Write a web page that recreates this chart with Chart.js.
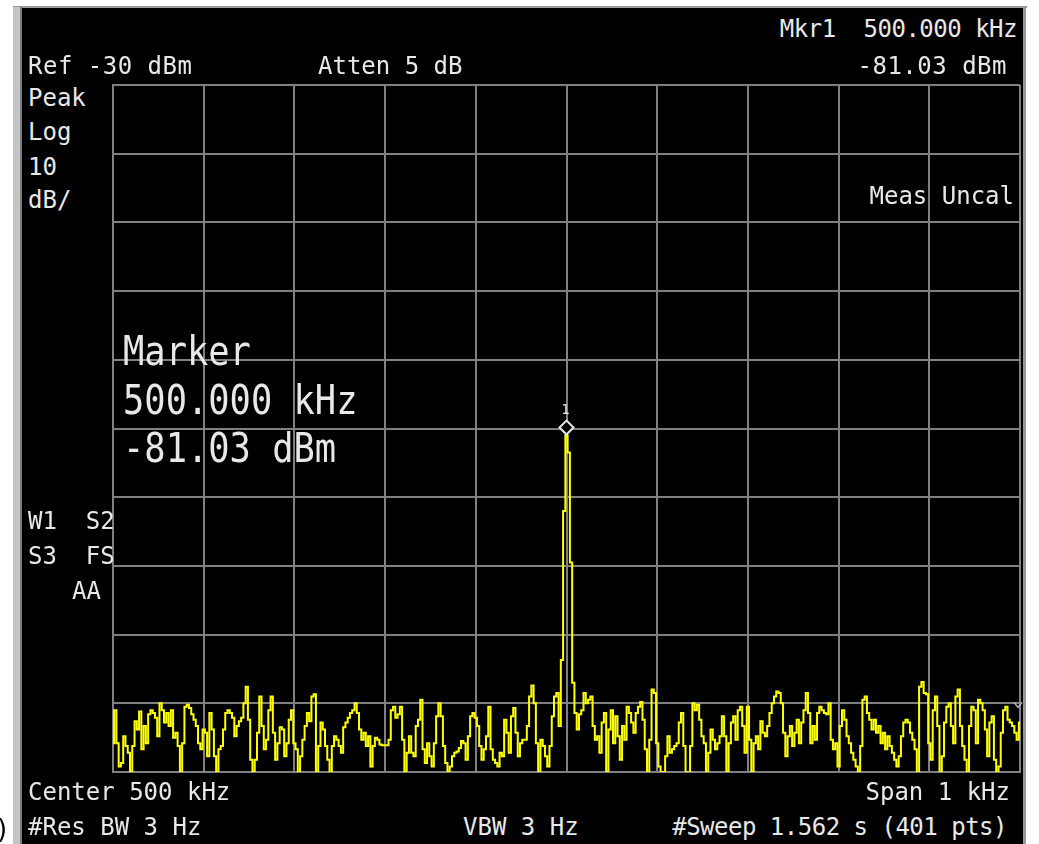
<!DOCTYPE html>
<html>
<head>
<meta charset="utf-8">
<script src="https://cdn.jsdelivr.net/npm/chart.js@4.4.0/dist/chart.umd.min.js"></script>
<style>
  html, body { margin: 0; padding: 0; background: #fff; }
  body { width: 1039px; height: 844px; position: relative; overflow: hidden; }
  #bevelL { position: absolute; left: 13px; top: 7px; width: 7px; height: 837px; background: #c4c4c4; }
  #bevelL2 { position: absolute; left: 20px; top: 7px; width: 2px; height: 837px; background: #7c7c7c; }
  #bevelT { position: absolute; left: 13px; top: 6px; width: 1014px; height: 2px; background: #9a9a9a; }
  #bevelR { position: absolute; left: 1023px; top: 6px; width: 3px; height: 838px; background: #9a9a9a; }
  #screen { position: absolute; left: 22px; top: 8px; width: 1001px; height: 836px; background: #000; }
  #wrap { position: absolute; left: 105px; top: 77px; width: 923px; height: 703px; }
  .t { position: absolute; font-family: "DejaVu Sans Mono", monospace; font-size: 24px; line-height: 24px;
       color: #e8e8e8; white-space: pre; }
  .r { text-align: right; }
  .tight { letter-spacing: -0.5px; }
  .wide { letter-spacing: 0.5px; }
  .big { font-size: 40px; line-height: 40px; transform: scaleX(0.885); transform-origin: 0 0; }
  #cap { position: absolute; left: -3px; top: 814px; font-family: "DejaVu Sans", sans-serif; font-size: 26px; color: #000; }
</style>
</head>
<body>
<div id="bevelT"></div>
<div id="bevelL"></div>
<div id="bevelL2"></div>
<div id="bevelR"></div>
<div id="screen"></div>
<div id="wrap"><canvas id="sa" width="923" height="703"></canvas></div>

<div class="t r tight" style="right:22px; top:17px;">Mkr1  500.000 kHz</div>
<div class="t wide" style="left:28px; top:54px;">Ref -30 dBm</div>
<div class="t" style="left:318px; top:54px;">Atten 5 dB</div>
<div class="t r wide" style="right:32px; top:54px;">-81.03 dBm</div>
<div class="t" style="left:28px; top:86px;">Peak</div>
<div class="t" style="left:28px; top:120px;">Log</div>
<div class="t" style="left:28px; top:155px;">10</div>
<div class="t" style="left:28px; top:188px;">dB/</div>
<div class="t r" style="right:25px; top:184px;">Meas Uncal</div>
<div class="t big" style="left:123px; top:331px;">Marker</div>
<div class="t big" style="left:123px; top:380px;">500.000 kHz</div>
<div class="t big" style="left:123px; top:428px;">-81.03 dBm</div>
<div class="t" style="left:28px; top:509px;">W1  S2</div>
<div class="t" style="left:28px; top:544px;">S3  FS</div>
<div class="t" style="left:72px; top:579px;">AA</div>
<div class="t" style="left:28px; top:780px;">Center 500 kHz</div>
<div class="t r" style="right:29px; top:780px;">Span 1 kHz</div>
<div class="t" style="left:28px; top:815px;">#Res BW 3 Hz</div>
<div class="t" style="left:463px; top:815px;">VBW 3 Hz</div>
<div class="t r tight" style="right:32px; top:815px;">#Sweep 1.562 s (401 pts)</div>
<div id="cap">)</div>

<script>
// trace points, dBm (401 pts, 499.5 .. 500.5 kHz)
const noiseLow = [
  -125.8, -121, -125.8, -129.2, -128.7, -124.8, -126.2, -127.2, -130, -126.2,
  -122.6, -123.8, -121.2, -126.7, -123.3, -125.8, -121.6, -121, -121.4, -122.1,
  -124.8, -120, -121, -122.8, -121.4, -123.3, -121, -125, -124.3, -126.2,
  -130, -125.8, -120.5, -120.2, -120.7, -121.6, -122.4, -123.3, -125.8, -126.7,
  -123.8, -124.3, -127.7, -121.4, -123.8, -127.7, -130, -126.7, -126.2, -123.8,
  -121.4, -121, -121.4, -122.1, -124.8, -123.3, -122.6, -122.1, -120, -117.6,
  -122.4, -128.2, -130, -128.2, -124.3, -119, -123.3, -126.7, -125.3, -121,
  -119, -124.3, -128.2, -125.8, -123.5, -123.8, -127.7, -125.8, -122.4, -121,
  -125.8, -126.7, -130, -127.7, -125.3, -123.3, -121.4, -122.6, -119, -118.7,
  -130, -126.2, -122.8, -123.8, -126.2, -128.2, -130, -126.2, -124.8, -125.3,
  -126.2, -127.2, -123.5, -122.8, -122.1, -121.4, -121, -120, -121.4, -123.8,
  -125.3, -124.3, -126.2, -124.8, -129.2, -126.2, -125, -125.3, -126, -126.1,
  -126.1, -126.1, -125.3, -121, -120.5, -122.1, -121.6, -120.5, -125.3, -130,
  -127.2, -124.8, -127.2, -127.7, -123.3, -122.4, -119.5, -126.7, -128.7, -125.8,
  -127.7, -129.2, -125.8, -121.9, -120, -121.9, -126.2, -128.7, -130, -129.2,
  -127.7, -127.2, -127, -126.5, -125.5, -125.8, -128.2, -124.8, -121.9, -121.4,
  -122.1, -123.3, -126.2, -128.2, -126.7, -124.8, -120.5, -126.7, -128.2, -128.7,
  -129.2, -127.2, -127.7, -122.4, -124.3, -127.2, -121.9, -120.7, -124.3, -127.7,
  -125.8, -125.3, -125.3, -123.3, -119, -117.4, -120, -125.8, -130, -125.3,
  -126.2, -127.7, -129.2, -126.2, -121.9, -119, -118.5, -123.3, -113.7
];
const carrier = [-92, -81.03, -83.5, -99.5, -117];
const noiseHigh = [
  -121.4, -123.8, -121.6, -121, -118.5, -120, -119.5, -119, -123.3, -125.3,
  -124.8, -127.2, -122.8, -121.4, -130, -123.8, -121, -125.8, -121.9, -124.8,
  -128.2, -123.3, -125.3, -120.5, -121.4, -122.8, -124.3, -121.4, -120.5, -119.8,
  -122.4, -126.7, -130, -125.3, -118, -118.5, -125.8, -129.2, -130, -130,
  -127.7, -124.8, -127.2, -126.7, -126.2, -125.8, -122.8, -121.4, -126.2, -130,
  -130, -126.2, -120, -121, -120.2, -122.4, -124.8, -125.8, -130, -127.2,
  -123.8, -125.3, -126.7, -125.8, -124.8, -121.9, -124.8, -130, -125.8, -122.8,
  -121.9, -125.3, -121, -120.5, -123.3, -127.2, -120.5, -125.3, -130, -125.8,
  -124.8, -126.7, -122.6, -124.3, -124.8, -123.3, -121.4, -120, -119, -118.3,
  -118.5, -120, -124.3, -127.7, -124.8, -123.3, -126.2, -124.3, -122.4, -125.8,
  -122.8, -121, -118.5, -121.4, -125.8, -123.3, -125.3, -121.4, -120.5, -121,
  -121.4, -121.6, -120, -125.3, -126.7, -125.8, -129.2, -123.3, -121, -122.4,
  -124.8, -125.8, -127.2, -128.2, -129.2, -130, -126.2, -119.5, -119, -121.4,
  -122.4, -123.8, -122.4, -124.3, -123.3, -125.8, -124.3, -126.7, -124.8, -126.2,
  -127.2, -128.2, -129.2, -127.7, -124.8, -122.8, -122.4, -122.8, -124.3, -125.3,
  -126.7, -130, -117.6, -116.9, -118.5, -118.7, -125.8, -128.2, -121, -119,
  -123.3, -130, -127.7, -122.8, -120.5, -120, -123.3, -125.8, -119, -118,
  -123.3, -126.2, -128.2, -130, -123.3, -120.5, -121, -125.8, -119.5, -120,
  -121, -123.8, -127.7, -122.8, -121.9, -128.2, -130, -129.2, -124.3, -121,
  -120.5, -122.4, -122.8, -123.3, -124.3, -125.3, -122.8
];
const trace = noiseLow.concat(carrier, noiseHigh);
const markerIndex = 200;     // 500.000 kHz
const refLevel = -30;        // top of screen
const bottomLevel = -130;    // 10 dB/div, 10 div

const points = trace.map((v, i) => ({ x: i, y: v }));

const markerPlugin = {
  id: 'marker',
  afterDatasetsDraw(chart) {
    const ctx = chart.ctx;
    const pt = chart.getDatasetMeta(0).data[markerIndex];
    const cx = pt.x, cy = pt.y - 8;
    ctx.save();
    ctx.beginPath();
    ctx.moveTo(cx, cy - 7);
    ctx.lineTo(cx + 7, cy);
    ctx.lineTo(cx, cy + 7);
    ctx.lineTo(cx - 7, cy);
    ctx.closePath();
    ctx.fillStyle = '#000';
    ctx.fill();
    ctx.lineWidth = 2;
    ctx.strokeStyle = '#e6e6e6';
    ctx.stroke();
    ctx.fillStyle = '#e6e6e6';
    ctx.font = '14px "DejaVu Sans Mono"';
    ctx.textAlign = 'center';
    ctx.textBaseline = 'bottom';
    ctx.fillText('1', cx - 1, cy - 10);
    // small display-line chevron at right edge
    const ry = chart.scales.y.getPixelForValue(-120.3);
    const rx = chart.chartArea.right - 2;
    ctx.beginPath();
    ctx.moveTo(rx - 4, ry - 3);
    ctx.lineTo(rx, ry + 2);
    ctx.lineTo(rx + 4, ry - 3);
    ctx.lineWidth = 1.5;
    ctx.strokeStyle = '#bdbdbd';
    ctx.stroke();
    ctx.restore();
  }
};

new Chart(document.getElementById('sa'), {
  type: 'line',
  data: {
    datasets: [{
      data: points,
      borderColor: '#ffff00',
      borderWidth: 2,
      pointRadius: 0,
      stepped: 'middle',
      fill: false
    }]
  },
  options: {
    responsive: false,
    animation: false,
    layout: { padding: 8 },
    plugins: { legend: { display: false }, tooltip: { enabled: false } },
    scales: {
      x: {
        type: 'linear', min: 0, max: 400,
        ticks: { display: false, stepSize: 40 },
        grid: { color: '#808080', lineWidth: 2, drawTicks: false },
        border: { color: '#808080', width: 2 }
      },
      y: {
        min: bottomLevel, max: refLevel,
        ticks: { display: false, stepSize: 10 },
        grid: { color: '#808080', lineWidth: 2, drawTicks: false },
        border: { color: '#808080', width: 2 }
      }
    }
  },
  plugins: [markerPlugin]
});
</script>
</body>
</html>
